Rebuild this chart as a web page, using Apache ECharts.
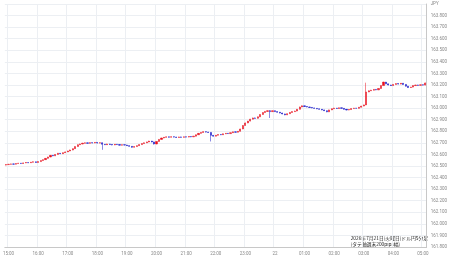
<!DOCTYPE html>
<html>
<head>
<meta charset="utf-8">
<script src="https://cdn.jsdelivr.net/npm/echarts@6/dist/echarts.min.js"></script>
<style>
  html, body { margin: 0; padding: 0; background: #fff; }
  #chart { width: 450px; height: 258px; }
</style>
</head>
<body>
<div id="chart"></div>
<script>
// 5-minute USD/JPY candles, 14:55 -> 05:05
var startHour = 14, startMinute = 55;
var midnightLabel = '22';
var yMin = 161.8, yMax = 163.9, yStep = 0.1;
var titleLine1 = '2026年7月21日(火曜日)ドル円5分足';
var titleLine2 = '(タテ軸週末200pips幅)';

// [open, close, low, high]
var candles = [
  // 14:55 - 15:50
  [162.508,162.512,162.505,162.515],[162.512,162.515,162.510,162.518],[162.515,162.518,162.513,162.520],
  [162.518,162.516,162.513,162.521],[162.516,162.521,162.514,162.523],[162.521,162.524,162.519,162.527],
  [162.524,162.522,162.519,162.526],[162.522,162.527,162.520,162.529],[162.527,162.530,162.525,162.533],
  [162.530,162.528,162.525,162.532],[162.528,162.533,162.526,162.535],[162.533,162.536,162.531,162.539],
  // 15:55 - 16:50
  [162.536,162.531,162.528,162.538],[162.531,162.538,162.529,162.540],[162.538,162.547,162.536,162.549],
  [162.547,162.555,162.545,162.557],[162.555,162.566,162.553,162.568],[162.566,162.578,162.564,162.580],
  [162.578,162.592,162.576,162.595],[162.592,162.588,162.585,162.595],[162.588,162.600,162.586,162.602],
  [162.600,162.610,162.598,162.613],[162.610,162.606,162.603,162.612],[162.606,162.615,162.604,162.617],
  // 16:55 - 17:50
  [162.615,162.622,162.613,162.625],[162.622,162.630,162.620,162.632],[162.630,162.638,162.628,162.641],
  [162.638,162.650,162.636,162.652],[162.650,162.668,162.648,162.670],[162.668,162.684,162.666,162.687],
  [162.684,162.690,162.682,162.693],[162.690,162.697,162.688,162.700],[162.697,162.700,162.695,162.703],
  [162.700,162.696,162.693,162.702],[162.696,162.702,162.694,162.705],[162.702,162.699,162.696,162.704],
  // 17:55 - 18:50
  [162.699,162.704,162.697,162.707],[162.704,162.698,162.695,162.706],[162.698,162.701,162.696,162.704],
  [162.701,162.688,162.640,162.703],[162.688,162.684,162.681,162.690],[162.684,162.690,162.682,162.692],
  [162.690,162.686,162.683,162.692],[162.686,162.682,162.679,162.688],[162.682,162.688,162.680,162.690],
  [162.688,162.685,162.682,162.690],[162.685,162.680,162.677,162.687],[162.680,162.684,162.678,162.686],
  // 18:55 - 19:50
  [162.684,162.681,162.678,162.686],[162.681,162.676,162.673,162.683],[162.676,162.670,162.667,162.678],
  [162.670,162.662,162.658,162.672],[162.662,162.668,162.660,162.670],[162.668,162.676,162.666,162.678],
  [162.676,162.685,162.674,162.687],[162.685,162.694,162.683,162.696],[162.694,162.700,162.692,162.703],
  [162.700,162.708,162.698,162.710],[162.708,162.715,162.706,162.718],[162.715,162.708,162.705,162.717],
  // 19:55 - 20:50
  [162.708,162.690,162.686,162.710],[162.690,162.712,162.688,162.714],[162.712,162.730,162.710,162.732],
  [162.730,162.742,162.728,162.744],[162.742,162.748,162.740,162.750],[162.748,162.752,162.746,162.755],
  [162.752,162.749,162.746,162.754],[162.749,162.753,162.747,162.756],[162.753,162.750,162.747,162.755],
  [162.750,162.747,162.744,162.752],[162.747,162.751,162.745,162.753],[162.751,162.748,162.745,162.753],
  // 20:55 - 21:50
  [162.748,162.752,162.746,162.754],[162.752,162.750,162.747,162.754],[162.750,162.755,162.748,162.757],
  [162.755,162.752,162.749,162.757],[162.752,162.758,162.750,162.760],[162.758,162.770,162.756,162.772],
  [162.770,162.782,162.768,162.784],[162.782,162.790,162.780,162.792],[162.790,162.797,162.788,162.800],
  [162.797,162.793,162.790,162.799],[162.793,162.790,162.787,162.795],[162.790,162.765,162.712,162.792],
  // 21:55 - 22:50
  [162.765,162.758,162.754,162.768],[162.758,162.766,162.756,162.768],[162.766,162.772,162.764,162.774],
  [162.772,162.770,162.767,162.775],[162.770,162.778,162.768,162.780],[162.778,162.783,162.776,162.785],
  [162.783,162.780,162.777,162.785],[162.780,162.788,162.778,162.790],[162.788,162.795,162.786,162.797],
  [162.795,162.792,162.789,162.797],[162.792,162.800,162.790,162.802],[162.800,162.820,162.798,162.822],
  // 22:55 - 23:50
  [162.820,162.850,162.818,162.853],[162.850,162.872,162.848,162.875],[162.872,162.888,162.870,162.890],
  [162.888,162.905,162.886,162.907],[162.905,162.915,162.903,162.918],[162.915,162.912,162.909,162.918],
  [162.912,162.925,162.910,162.927],[162.925,162.945,162.923,162.947],[162.945,162.962,162.943,162.964],
  [162.962,162.972,162.960,162.975],[162.972,162.978,162.970,162.981],[162.978,162.970,162.915,162.983],
  // 23:55 - 00:50
  [162.970,162.978,162.968,162.980],[162.978,162.970,162.967,162.980],[162.970,162.965,162.962,162.972],
  [162.965,162.958,162.955,162.967],[162.958,162.950,162.947,162.960],[162.950,162.942,162.939,162.952],
  [162.942,162.952,162.940,162.954],[162.952,162.963,162.950,162.965],[162.963,162.970,162.961,162.972],
  [162.970,162.975,162.968,162.978],[162.975,162.990,162.973,162.992],[162.990,163.010,162.988,163.013],
  // 00:55 - 01:50
  [163.010,163.020,163.008,163.023],[163.020,163.014,163.011,163.022],[163.014,163.010,163.007,163.016],
  [163.010,163.006,163.003,163.012],[163.006,163.002,162.999,163.008],[163.002,162.998,162.995,163.004],
  [162.998,162.994,162.991,163.000],[162.994,162.990,162.987,162.996],[162.990,162.985,162.982,162.992],
  [162.985,162.978,162.975,162.987],[162.978,162.968,162.965,162.980],[162.968,162.985,162.966,162.987],
  // 01:55 - 02:50
  [162.985,162.995,162.983,162.997],[162.995,163.000,162.993,163.003],[163.000,162.997,162.994,163.002],
  [162.997,163.003,162.995,163.005],[163.003,162.998,162.995,163.005],[162.998,162.990,162.987,163.000],
  [162.990,162.984,162.981,162.992],[162.984,162.988,162.982,162.990],[162.988,162.996,162.986,162.998],
  [162.996,163.000,162.994,163.002],[163.000,162.998,162.995,163.002],[162.998,163.008,162.996,163.010],
  // 02:55 - 03:50
  [163.008,163.018,163.006,163.020],[163.018,163.028,163.016,163.030],[163.028,163.140,163.026,163.220],
  [163.140,163.150,163.138,163.153],[163.150,163.155,163.148,163.158],[163.155,163.162,163.153,163.165],
  [163.162,163.158,163.155,163.164],[163.158,163.170,163.156,163.172],[163.170,163.195,163.168,163.197],
  [163.195,163.225,163.193,163.228],[163.225,163.210,163.207,163.227],[163.210,163.200,163.197,163.212],
  // 03:55 - 05:05
  [163.200,163.195,163.192,163.202],[163.195,163.205,163.193,163.207],[163.205,163.212,163.203,163.214],
  [163.212,163.208,163.205,163.214],[163.208,163.215,163.206,163.217],[163.215,163.205,163.202,163.217],
  [163.205,163.190,163.187,163.207],[163.190,163.178,163.175,163.192],[163.178,163.182,163.176,163.184],
  [163.182,163.195,163.180,163.197],[163.195,163.200,163.193,163.202],[163.200,163.197,163.194,163.202],
  [163.197,163.202,163.195,163.204],[163.202,163.199,163.196,163.204],[163.199,163.218,163.197,163.221]
];

var times = [];
for (var i = 0; i < candles.length; i++) {
  var m = startHour * 60 + startMinute + i * 5;
  var hh = Math.floor(m / 60) % 24, mm = m % 60;
  times.push((hh < 10 ? '0' : '') + hh + ':' + (mm < 10 ? '0' : '') + mm);
}

function onHour(idx) {
  return times[idx].slice(3) === '00';
}

var chart = echarts.init(document.getElementById('chart'), null, { renderer: 'canvas' });

var option = {
  backgroundColor: '#fff',
  animation: false,
  grid: { left: 0, right: 18, top: 4, bottom: 11 },
  xAxis: {
    type: 'category',
    data: times,
    boundaryGap: true,
    axisLine: { show: true, lineStyle: { color: '#c8c8c8', width: 1 } },
    axisTick: { show: false },
    axisLabel: {
      interval: function (idx) { return onHour(idx); },
      formatter: function (v) { return v === '00:00' ? midnightLabel : v; },
      fontSize: 4.5,
      color: '#888',
      margin: 4,
      fontFamily: 'Roboto'
    },
    splitLine: {
      show: true,
      interval: function (idx) { return onHour(idx); },
      lineStyle: { color: '#eceff3', width: 1 }
    }
  },
  yAxis: {
    type: 'value',
    position: 'right',
    min: yMin,
    max: yMax,
    interval: yStep,
    scale: true,
    axisLine: { show: true, lineStyle: { color: '#c8c8c8', width: 1 } },
    axisTick: { show: false },
    axisLabel: {
      fontSize: 4.5,
      color: '#888',
      margin: 4,
      fontFamily: 'Roboto',
      formatter: function (v) {
        if (Math.abs(v - yMax) < 1e-6) return 'JPY';
        return v.toFixed(3);
      }
    },
    splitLine: { show: true, lineStyle: { color: '#eceff3', width: 1 } }
  },
  series: [{
    type: 'candlestick',
    data: candles,
    barWidth: 1.6,
    itemStyle: {
      color: '#e8101e',
      color0: '#1414c8',
      borderColor: '#e8101e',
      borderColor0: '#1414c8',
      borderWidth: 0.5
    }
  }],
  graphic: [{
    type: 'text',
    right: 22,
    top: 236,
    style: {
      text: titleLine1 + '\n' + titleLine2,
      align: 'right',
      font: '4.8px "Noto Sans CJK JP"',
      lineHeight: 5.2,
      fill: '#222'
    }
  }]
};

chart.setOption(option);
</script>
</body>
</html>
